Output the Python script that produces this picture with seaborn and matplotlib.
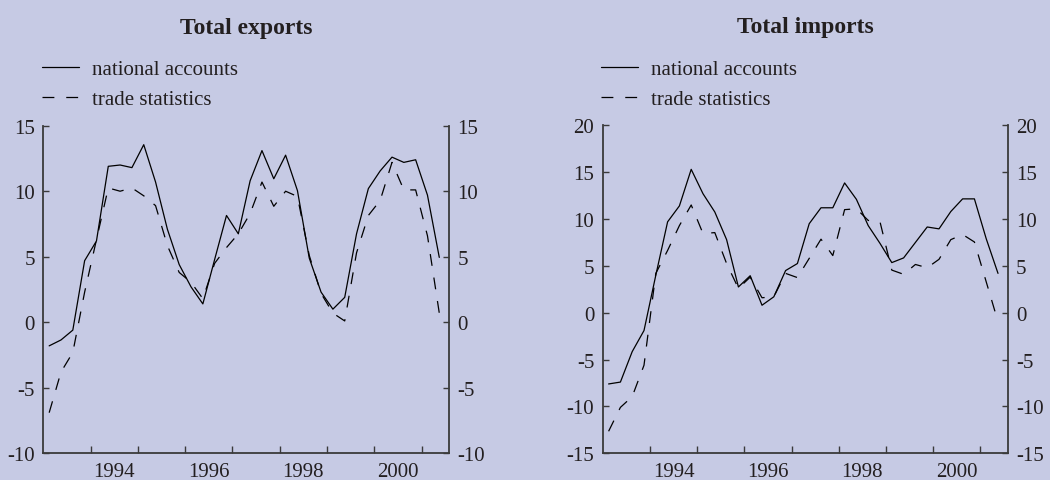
import numpy as np
import pandas as pd
import matplotlib
matplotlib.use("Agg")
import matplotlib.pyplot as plt
import seaborn as sns
from matplotlib.lines import Line2D

# Quarterly year-on-year growth rates, 1993Q1 - 2001Q2 (per cent)
start_year = 1993
n_quarters = 34

exports_national = [-1.8, -1.35, -0.6, 4.7, 6.2, 11.9, 12.0, 11.8, 13.55, 10.7,
                    7.1, 4.4, 2.7, 1.4, 4.8, 8.15, 6.75, 10.8, 13.1, 10.95,
                    12.75, 10.05, 4.9, 2.3, 1.0, 1.9, 6.75, 10.2, 11.55, 12.6,
                    12.2, 12.4, 9.7, 4.95]
exports_trade = [-6.9, -3.8, -2.3, 2.3, 6.3, 10.25, 10.0, 10.25, 9.65, 8.9,
                 5.85, 3.8, 3.05, 1.8, 4.5, 5.7, 6.75, 8.3, 10.7, 8.85,
                 10.0, 9.6, 5.1, 2.2, 0.7, 0.1, 5.3, 8.15, 9.3, 12.2,
                 10.1, 10.1, 6.6, 0.7]
imports_national = [-7.6, -7.4, -4.15, -1.9, 4.0, 9.7, 11.4, 15.3, 12.7, 10.75,
                    7.8, 2.75, 3.95, 0.8, 1.7, 4.5, 5.25, 9.5, 11.2, 11.2,
                    13.85, 12.1, 9.3, 7.4, 5.35, 5.85, 7.5, 9.15, 8.95, 10.8,
                    12.15, 12.15, 7.9, 4.2]
imports_trade = [-12.65, -10.1, -8.95, -5.6, 4.2, 6.65, 9.3, 11.5, 8.45, 8.55,
                 5.25, 2.6, 3.8, 1.6, 1.7, 4.2, 3.75, 5.8, 7.85, 6.1,
                 11.0, 11.1, 9.85, 9.7, 4.55, 4.1, 5.15, 4.8, 5.7, 7.8,
                 8.35, 7.55, 3.3, -0.95]

series_names = ["national accounts", "trade statistics"]
panel_titles = ["Total exports", "Total imports"]
y_ticks = [[-10, -5, 0, 5, 10, 15], [-15, -10, -5, 0, 5, 10, 15, 20]]
year_ticks = list(range(1994, 2002))
year_labels = ["1994", "1996", "1998", "2000"]

# Mid-quarter positions on a continuous year axis
quarter_idx = np.arange(n_quarters)
t = start_year + (quarter_idx + 0.5) / 4.0

frames = []
for panel, (na, ts) in zip(panel_titles, [(exports_national, exports_trade),
                                          (imports_national, imports_trade)]):
    for name, vals in zip(series_names, [na, ts]):
        frames.append(pd.DataFrame({"t": t, "value": vals,
                                    "series": name, "panel": panel}))
df = pd.concat(frames, ignore_index=True)

bg = "#c6cae4"
ink = "#231f20"
dash_pattern = (9.5, 9.5)

sns.set_theme(style="white")
plt.rcParams["font.family"] = ["Liberation Serif", "DejaVu Serif"]
plt.rcParams["axes.unicode_minus"] = False

fig = plt.figure(figsize=(10.5, 4.81), dpi=100, facecolor=bg)
axes = [fig.add_axes([0.0412, 0.0555, 0.3864, 0.6811]),
        fig.add_axes([0.5740, 0.0555, 0.3857, 0.6819])]

dash_map = {"national accounts": "", "trade statistics": dash_pattern}

for ax, title, yt in zip(axes, panel_titles, y_ticks):
    ax.set_facecolor(bg)
    sub = df[df["panel"] == title]
    sns.lineplot(data=sub, x="t", y="value", style="series",
                 dashes=dash_map, color="black", linewidth=0.9,
                 legend=False, ax=ax)
    ax.set_xlim(1993.0, 2001.58)
    ax.set_ylim(yt[0], yt[-1])
    ax.set_yticks(yt)
    ax.set_yticklabels([str(v) for v in yt])
    ax.set_xticks(year_ticks)
    ax.set_xticklabels([])
    ax.set_xticks([int(y) + 0.5 for y in year_labels], minor=True)
    ax.set_xticklabels(year_labels, minor=True)
    ax.set_xlabel("")
    ax.set_ylabel("")

    for side in ["left", "right", "bottom"]:
        ax.spines[side].set_visible(True)
        ax.spines[side].set_color("#3a3a3a")
        ax.spines[side].set_linewidth(1.3)
    ax.spines["top"].set_visible(False)

    ax.tick_params(axis="y", which="major", direction="in", length=4, width=1,
                   color="#3a3a3a", left=True, right=True,
                   labelleft=True, labelright=True, labelsize=15,
                   labelcolor=ink, pad=6)
    ax.tick_params(axis="x", which="major", direction="in", length=5, width=1,
                   color="#3a3a3a", bottom=True)
    ax.tick_params(axis="x", which="minor", length=0, labelsize=15,
                   labelcolor=ink, pad=6)

    ax.set_title(title, fontsize=17, fontweight="bold", color=ink, pad=67)

    handles = [Line2D([], [], color="black", linewidth=0.9),
               Line2D([], [], color="black", linewidth=0.9, dashes=dash_pattern)]
    ax.legend(handles, series_names, loc="lower left",
              bbox_to_anchor=(-0.003, 1.05), frameon=False, fontsize=15,
              borderpad=0, borderaxespad=0, handlelength=1.75,
              handletextpad=0.65, labelspacing=0.5, labelcolor=ink)

fig.savefig("out.png", dpi=100, facecolor=bg)
